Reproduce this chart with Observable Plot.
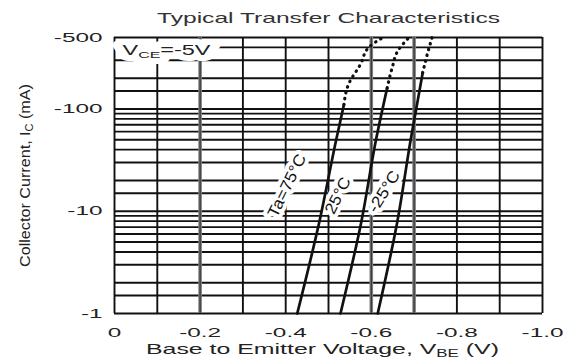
<!DOCTYPE html>
<html>
<head>
<meta charset="utf-8">
<script src="https://cdn.jsdelivr.net/npm/d3@7"></script>
<script src="https://cdn.jsdelivr.net/npm/@observablehq/plot@0.6"></script>
<style>
  html, body { margin: 0; padding: 0; background: #fff; }
  #chart svg { display: block; }
</style>
</head>
<body>
<div id="chart"></div>
<script>
// ---- texts ----
const title = "Typical Transfer Characteristics";
const xLabelParts = ["Base to Emitter Voltage, V", "BE", " (V)"];
const yLabelParts = ["Collector Current, I", "C", " (mA)"];
const vceParts = ["V", "CE", "=-5V"];
const curveNames = ["Ta=75°C", "25°C", "-25°C"];

// ---- axes ----
const xTicks = [0, -0.2, -0.4, -0.6, -0.8, -1.0];
const xTickLabels = ["0", "-0.2", "-0.4", "-0.6", "-0.8", "-1.0"];
const yTicks = [-1, -10, -100, -500];
const yTickLabels = ["-1", "-10", "-100", "-500"];
const xGrid = [0, -0.1, -0.2, -0.3, -0.4, -0.5, -0.6, -0.7, -0.8, -0.9, -1.0];
const xGridGray = [-0.2, -0.6, -0.7];
const yGrid = [-1, -1.5, -2, -3, -4, -5, -6, -7, -8, -9,
               -10, -15, -20, -30, -40, -50, -60, -70, -80, -90,
               -100, -150, -200, -300, -400, -500];

// ---- curves (V_BE in V, I_C in mA) ----
const solidV = [
  [-0.427, -0.479, -0.518, -0.536],
  [-0.528, -0.577, -0.611, -0.637],
  [-0.615, -0.661, -0.692, -0.720]
];
const solidI = [
  [-1, -8, -50, -110],
  [-1, -8, -50, -160],
  [-1, -8, -50, -225]
];
const dottedV = [
  [-0.536, -0.547, -0.575, -0.594, -0.627],
  [-0.637, -0.649, -0.662, -0.688],
  [-0.720, -0.731, -0.742]
];
const dottedI = [
  [-110, -175, -275, -400, -500],
  [-160, -255, -370, -500],
  [-225, -345, -500]
];
const labelV = [-0.403, -0.522, -0.630];
const labelI = [-17.8, -14.2, -15.6];
const labelAngle = [-64, -63, -58];

// ---- build tables ----
const toRows = (V, I) => V.flatMap((vs, c) => vs.map((v, j) => ({curve: curveNames[c], v, i: I[c][j]})));
const solidRows = toRows(solidV, solidI);
const dottedRows = toRows(dottedV, dottedI);
const labelRows = curveNames.map((name, k) => ({name, v: labelV[k], i: labelI[k], r: labelAngle[k]}));
const yTickRows = yTicks.map((t, k) => ({t, label: yTickLabels[k]}));
const mag = d => Math.abs(d);

const xLabel = xLabelParts.join("");
const yLabel = yLabelParts.join("");
const vceLabel = vceParts.join("");
const ink = "#111";
const textInk = "#222";
const wide = 1.87; // the reference's glyphs are stretched horizontally
const fontFamily = "'Liberation Sans', Arial, sans-serif";
const vceOpts = {frameAnchor: "top-left", dx: 8, dy: 13.5, textAnchor: "start", lineAnchor: "middle", fontSize: 14};

// y tick labels are right-aligned at the frame; measure them so they can be start-anchored
const measure = document.createElement("canvas").getContext("2d");
measure.font = `13px ${fontFamily}`;
const yTickMarks = yTickRows.map(r =>
  Plot.text([r], {y: d => mag(d.t), text: "label", frameAnchor: "left", textAnchor: "start",
    dx: -12 - measure.measureText(r.label).width * wide, fontSize: 13, fill: textInk})
);

const plot = Plot.plot({
  width: 571,
  height: 362,
  marginTop: 37,
  marginBottom: 49,
  marginLeft: 114,
  marginRight: 29,
  style: {fontFamily, fontSize: "13px", color: textInk, background: "#fff"},
  x: {type: "linear", domain: [0, -1.0]},
  y: {type: "log", domain: [1, 500], axis: null},
  marks: [
    Plot.ruleY(yGrid, {y: mag, stroke: ink, strokeWidth: 1.9}),
    Plot.ruleX(xGrid, {x: d => d, stroke: ink, strokeWidth: 1.9}),
    Plot.ruleX(xGridGray, {x: d => d, stroke: "#808080", strokeWidth: 3.6}),
    Plot.ruleX(xGridGray, {x: d => d, stroke: "#333", strokeWidth: 1.2}),
    Plot.axisX({ticks: xTicks, tickFormat: (d, i) => xTickLabels[i], tickSize: 0, tickPadding: 14, label: null, fill: textInk}),
    ...yTickMarks,
    Plot.text([vceLabel], {...vceOpts, fill: "white", stroke: "white", strokeWidth: 12}),
    Plot.text([vceLabel], {...vceOpts, fill: textInk}),
    Plot.text(labelRows, {x: "v", y: d => mag(d.i), text: "name", rotate: "r", fontSize: 16, fill: ink, stroke: "white", strokeWidth: 8}),
    Plot.line(solidRows, {x: "v", y: d => mag(d.i), z: "curve", stroke: ink, strokeWidth: 2.7, curve: "monotone-y"}),
    Plot.line(dottedRows, {x: "v", y: d => mag(d.i), z: "curve", stroke: ink, strokeWidth: 3.2, strokeDasharray: "0.5,5.5", strokeLinecap: "round", curve: "monotone-y"}),
    Plot.text([title], {frameAnchor: "top", dy: -19, lineAnchor: "middle", fontSize: 15, fill: "#333"}),
    Plot.text([xLabel], {frameAnchor: "bottom", dx: -6, dy: 36, lineAnchor: "middle", fontSize: 15, fill: textInk}),
    Plot.text([yLabel], {frameAnchor: "left", dx: -89, rotate: -90, textAnchor: "middle", lineAnchor: "middle", fontSize: 15, fill: textInk})
  ]
});

document.getElementById("chart").append(plot);

// subscripts
const NS = "http://www.w3.org/2000/svg";
function applySub(t, parts, shift) {
  t.textContent = "";
  const a = document.createElementNS(NS, "tspan"); a.textContent = parts[0]; t.append(a);
  const b = document.createElementNS(NS, "tspan"); b.textContent = parts[1];
  b.style.fontSize = "68%"; b.setAttribute("dy", shift); t.append(b);
  const c = document.createElementNS(NS, "tspan"); c.textContent = parts[2];
  c.setAttribute("dy", -shift); t.append(c);
}
const subMap = new Map([[xLabel, xLabelParts], [yLabel, yLabelParts], [vceLabel, vceParts]]);
const targets = new Map([
  [title, 343], [xLabel, 353], [yLabel, 183], [vceLabel, 88],
  [curveNames[0], 68], [curveNames[1], 39], [curveNames[2], 46]
]);
plot.querySelectorAll("text").forEach(t => {
  const s = t.textContent;
  if (subMap.has(s)) applySub(t, subMap.get(s), 2.5);
  const len = t.getComputedTextLength();
  const target = targets.has(s) ? targets.get(s) : len * wide;
  t.setAttribute("textLength", target);
  t.setAttribute("lengthAdjust", "spacingAndGlyphs");
});
</script>
</body>
</html>
